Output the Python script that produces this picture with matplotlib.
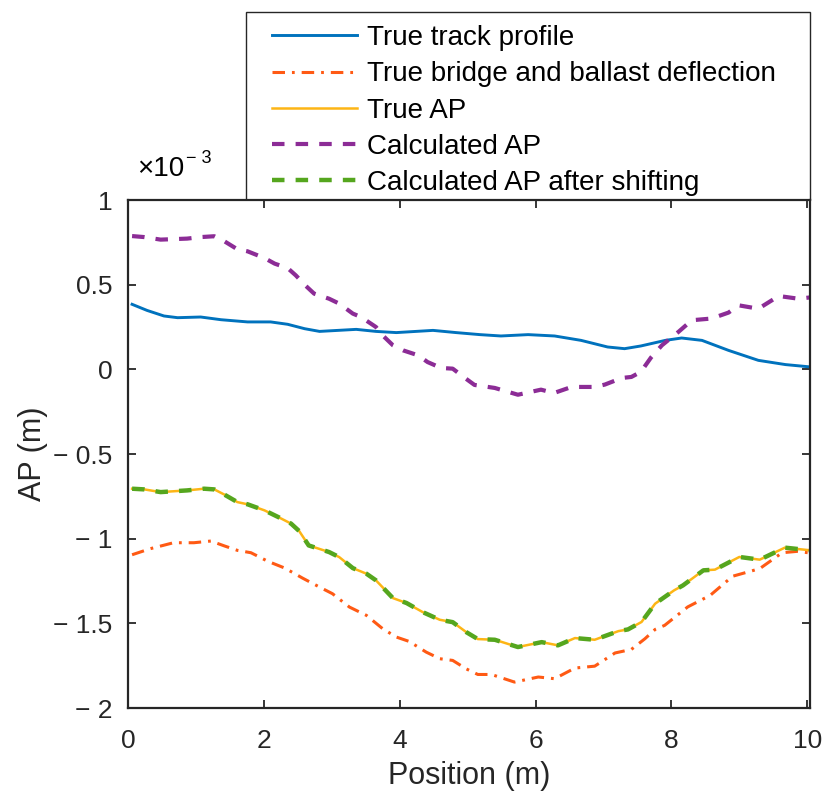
import matplotlib
matplotlib.use("Agg")
import matplotlib.pyplot as plt
from matplotlib.patches import Rectangle
from matplotlib.ticker import FuncFormatter

plt.rcParams['font.family'] = ['Liberation Sans', 'DejaVu Sans']
plt.rcParams['lines.scale_dashes'] = False

# values in units of 1e-3 m
track_x = [0.06, 0.28, 0.53, 0.73, 1.07, 1.37, 1.76, 2.10, 2.35, 2.60, 2.82, 3.36, 3.65,
           3.95, 4.49, 4.83, 5.18, 5.49, 5.89, 6.28, 6.67, 7.06, 7.31, 7.55, 7.91, 8.15,
           8.45, 8.84, 9.28, 9.68, 10.05]
track_y = [0.384, 0.348, 0.315, 0.305, 0.309, 0.293, 0.280, 0.280, 0.266, 0.240, 0.224,
           0.236, 0.224, 0.217, 0.230, 0.217, 0.205, 0.197, 0.205, 0.197, 0.171, 0.132,
           0.122, 0.138, 0.171, 0.185, 0.171, 0.112, 0.053, 0.028, 0.014]

bridge_x = [0.06, 0.33, 0.67, 0.97, 1.22, 1.42, 1.61, 1.81, 2.06, 2.31, 2.57, 2.82, 3.01,
            3.26, 3.51, 3.75, 3.95, 4.14, 4.39, 4.59, 4.78, 4.98, 5.15, 5.35, 5.69, 6.04,
            6.28, 6.58, 6.87, 7.17, 7.41, 7.61, 7.76, 7.90, 8.24, 8.57, 8.90, 9.30, 9.63,
            9.85, 10.05]
bridge_y = [-1.095, -1.059, -1.024, -1.024, -1.014, -1.043, -1.069, -1.083, -1.134, -1.174,
            -1.233, -1.286, -1.325, -1.404, -1.453, -1.532, -1.581, -1.607, -1.670, -1.709,
            -1.719, -1.769, -1.802, -1.802, -1.847, -1.817, -1.827, -1.764, -1.753, -1.675,
            -1.654, -1.591, -1.536, -1.512, -1.403, -1.335, -1.222, -1.177, -1.083, -1.075,
            -1.085]

ap_x = [0.06, 0.24, 0.48, 0.87, 1.12, 1.27, 1.42, 1.61, 1.76, 2.01, 2.21, 2.40, 2.52, 2.66,
        2.96, 3.11, 3.31, 3.51, 3.65, 3.90, 4.10, 4.34, 4.59, 4.78, 4.98, 5.15, 5.40, 5.74,
        6.09, 6.33, 6.58, 6.87, 7.22, 7.36, 7.56, 7.76, 8.04, 8.17, 8.47, 8.64, 9.00, 9.30,
        9.67, 10.05]
ap_y = [-0.705, -0.709, -0.725, -0.715, -0.705, -0.709, -0.740, -0.784, -0.797, -0.833,
        -0.872, -0.911, -0.955, -1.040, -1.079, -1.109, -1.174, -1.207, -1.246, -1.351,
        -1.380, -1.434, -1.479, -1.493, -1.552, -1.593, -1.597, -1.640, -1.611, -1.630,
        -1.587, -1.597, -1.546, -1.536, -1.492, -1.384, -1.305, -1.276, -1.187, -1.183,
        -1.108, -1.124, -1.053, -1.069]

calc_x = [0.06, 0.24, 0.48, 0.87, 1.07, 1.27, 1.42, 1.61, 1.76, 2.01, 2.16, 2.35, 2.47, 2.62,
          2.74, 2.96, 3.11, 3.31, 3.43, 3.65, 3.75, 3.90, 4.05, 4.27, 4.41, 4.61, 4.78, 4.96,
          5.10, 5.40, 5.74, 6.08, 6.27, 6.53, 6.87, 7.02, 7.27, 7.41, 7.55, 7.70, 7.86, 8.10,
          8.30, 8.59, 8.84, 8.99, 9.28, 9.58, 9.87, 10.05]
calc_y = [0.787, 0.781, 0.766, 0.772, 0.781, 0.786, 0.756, 0.709, 0.697, 0.657, 0.624, 0.598,
          0.555, 0.492, 0.447, 0.417, 0.388, 0.329, 0.309, 0.250, 0.200, 0.142, 0.112, 0.083,
          0.043, 0.008, 0.004, -0.051, -0.092, -0.110, -0.150, -0.120, -0.140, -0.104, -0.104,
          -0.090, -0.051, -0.045, -0.015, 0.070, 0.142, 0.220, 0.290, 0.300, 0.335, 0.378,
          0.358, 0.433, 0.417, 0.425]

shift_x = list(ap_x)
shift_y = [-0.705, -0.709, -0.725, -0.715, -0.705, -0.709, -0.740, -0.784, -0.797, -0.833,
           -0.872, -0.911, -0.955, -1.040, -1.079, -1.109, -1.174, -1.207, -1.246, -1.351,
           -1.380, -1.434, -1.479, -1.493, -1.552, -1.593, -1.597, -1.640, -1.611, -1.630,
           -1.587, -1.597, -1.546, -1.536, -1.492, -1.384, -1.305, -1.276, -1.187, -1.183,
           -1.108, -1.124, -1.053, -1.069]

labels = ['True track profile', 'True bridge and ballast deflection', 'True AP',
          'Calculated AP', 'Calculated AP after shifting']

W, H = 823, 796
fig = plt.figure(figsize=(W / 100, H / 100), dpi=100)
ax = fig.add_axes([128 / W, 1 - 708 / H, (810 - 128) / W, (708 - 200) / H])

tc = '#262626'
l1, = ax.plot(track_x, track_y, color='#0072BD', lw=2.1, label=labels[0])
l2, = ax.plot(bridge_x, bridge_y, color='#FF5A14', lw=2.2, dashes=(9, 5, 2, 5), label=labels[1])
l3, = ax.plot(ap_x, ap_y, color='#FDB515', lw=1.8, label=labels[2])
l4, = ax.plot(calc_x, calc_y, color='#8C2C96', lw=3.0, dashes=(9, 8), label=labels[3])
l5, = ax.plot(shift_x, shift_y, color='#55A61E', lw=3.2, dashes=(9, 8), label=labels[4])

ax.set_xlim(0, 10.04)
ax.set_ylim(-2, 1)
ax.set_xticks([0, 2, 4, 6, 8, 10])
ax.set_yticks([-2, -1.5, -1, -0.5, 0, 0.5, 1])

def yfmt(v, pos):
    s = '%g' % abs(v)
    return ('\u2212 ' + s) if v < 0 else s

ax.yaxis.set_major_formatter(FuncFormatter(yfmt))
ax.tick_params(direction='in', length=6, width=1.3, colors=tc, labelsize=19,
               top=True, right=True)
ax.tick_params(axis='x', pad=15)
ax.tick_params(axis='y', pad=11)
for sp in ax.spines.values():
    sp.set_linewidth(1.6)
    sp.set_color(tc)

ax.set_xlabel('Position (m)', fontsize=22, color=tc, labelpad=6)
ax.set_ylabel('AP (m)', fontsize=22, color=tc, labelpad=4)

# exponent label in the MATLAB style
fig.text(137 / W, 1 - 176 / H, '\u00d710', fontsize=20, color='k', va='baseline')
fig.text(186 / W, 1 - 163 / H, '\u2212 3', fontsize=13, color='k', va='baseline')

# legend frame drawn separately to match the box shape
fig.patches.append(Rectangle((246 / W, 1 - 200 / H), (810 - 246) / W, (200 - 12) / H,
                             transform=fig.transFigure, facecolor='white',
                             edgecolor=tc, lw=1.0, zorder=-1))
fig.legend(handles=[l1, l2, l3, l4, l5], loc='upper left',
           bbox_to_anchor=(272 / W, 1 - 25 / H), frameon=False, fontsize=20,
           borderpad=0, borderaxespad=0, handlelength=3.05, handletextpad=0.36,
           labelspacing=0.37)

fig.savefig('out.png', dpi=100)
